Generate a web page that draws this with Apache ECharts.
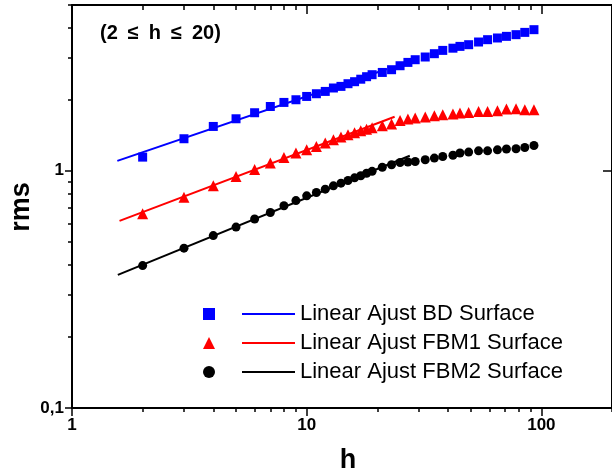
<!DOCTYPE html>
<html>
<head>
<meta charset="utf-8">
<script src="https://cdn.jsdelivr.net/npm/echarts@6/dist/echarts.min.js"></script>
<style>
html,body{margin:0;padding:0;background:#fff;}
#chart{width:612px;height:475px;}
</style>
</head>
<body>
<div id="chart"></div>
<script>
// ---- data ----
const hValues = [2,3,4,5,6,7,8,9,10,11,12,13,14,15,16,17,18,19,
  21,23,25,27,29,32,35,38,42,45,49,54,59,65,71,78,85,93];
const bdValues = [1.142,1.365,1.538,1.657,1.757,1.867,1.942,1.993,2.058,2.113,2.161,2.234,2.269,2.329,2.375,2.433,2.493,2.542,
  2.598,2.668,2.773,2.864,2.940,3.018,3.117,3.218,3.288,3.346,3.401,3.491,3.571,3.630,3.688,3.749,3.833,3.935];
const fbm1Values = [0.659,0.774,0.864,0.946,1.013,1.078,1.138,1.188,1.226,1.266,1.309,1.351,1.387,1.419,1.447,1.475,1.497,1.518,
  1.548,1.574,1.630,1.652,1.669,1.685,1.706,1.723,1.736,1.752,1.762,1.779,1.779,1.791,1.821,1.826,1.809,1.809];
const fbm2Values = [0.3985,0.472,0.533,0.579,0.626,0.667,0.712,0.749,0.784,0.810,0.837,0.864,0.887,0.910,0.934,0.953,0.976,0.995,
  1.035,1.060,1.084,1.089,1.094,1.113,1.131,1.149,1.163,1.188,1.199,1.214,1.214,1.226,1.235,1.238,1.254,1.279];
// linear-fit lines (start / end points)
const fitBD = [[1.56, 1.101], [22, 2.687]];
const fitFBM1 = [[1.594, 0.615], [23.7, 1.69]];
const fitFBM2 = [[1.568, 0.364], [27.5, 1.157]];
// ticks
const xMajorTicks = [1, 10, 100];
const xMinorTicks = [2,3,4,5,6,7,8,9,20,30,40,50,60,70,80,90,200];
const yMajorTicks = [0.1, 1];
const yMinorTicks = [0.2,0.3,0.4,0.5,0.6,0.7,0.8,0.9,2,3,4,5];
const yTickText = {0.1: '0,1', 1: '1'};
const seriesNames = ['BD Surface', 'FBM1 Surface', 'FBM2 Surface'];
const fitNames = ['Linear Ajust BD Surface', 'Linear Ajust FBM1 Surface', 'Linear Ajust FBM2 Surface'];

const toPairs = (vals) => hValues.map((h, i) => [h, vals[i]]);
const FONT = '"Liberation Sans", Arial, sans-serif';

const chart = echarts.init(document.getElementById('chart'), null, {renderer: 'canvas'});

function xAxisDef(position, custom, len, inside, showLine, labels) {
  return {
    type: 'log', logBase: 10, min: 1, max: 200, position: position,
    axisLine: {show: showLine, lineStyle: {color: '#000', width: 2}},
    axisTick: {show: true, inside: inside, length: len, customValues: custom, lineStyle: {color: '#000', width: 1.5}},
    axisLabel: labels ? {show: true, customValues: xMajorTicks, margin: 9, color: '#000', fontSize: 17, fontWeight: 'bold', fontFamily: FONT,
      formatter: (v) => String(Math.round(v))} : {show: false},
    splitLine: {show: false}, minorTick: {show: false}
  };
}
function yAxisDef(position, custom, len, inside, showLine, labels) {
  return {
    type: 'log', logBase: 10, min: 0.1, max: 5, position: position,
    axisLine: {show: showLine, lineStyle: {color: '#000', width: 2}},
    axisTick: {show: true, inside: inside, length: len, customValues: custom, lineStyle: {color: '#000', width: 1.5}},
    axisLabel: labels ? {show: true, customValues: yMajorTicks, margin: 8, color: '#000', fontSize: 17, fontWeight: 'bold', fontFamily: FONT,
      formatter: (v) => (Math.abs(v - 0.1) < 1e-6 ? yTickText[0.1] : (Math.abs(v - 1) < 1e-6 ? yTickText[1] : ''))} : {show: false},
    splitLine: {show: false}, minorTick: {show: false}
  };
}

const colors = ['#0000ff', '#ff0000', '#000000'];
const symbols = ['rect', 'triangle', 'circle'];
const symSizes = [9, 11, 9];
const pointData = [bdValues, fbm1Values, fbm2Values];
const fitData = [fitBD, fitFBM1, fitFBM2];

const series = [];
for (let i = 0; i < 3; i++) {
  series.push({
    name: seriesNames[i], type: 'scatter', xAxisIndex: 0, yAxisIndex: 0,
    symbol: symbols[i], symbolSize: symSizes[i],
    itemStyle: {color: colors[i], opacity: 1}, data: toPairs(pointData[i]), z: 2
  });
}
for (let i = 0; i < 3; i++) {
  series.push({
    name: fitNames[i], type: 'line', xAxisIndex: 0, yAxisIndex: 0,
    symbol: 'none', showSymbol: false,
    lineStyle: {color: colors[i], width: 2}, itemStyle: {color: colors[i]},
    data: fitData[i], z: 3, animation: false
  });
}

chart.setOption({
  animation: false,
  grid: {left: 72, top: 5, width: 545, height: 403, containLabel: false},
  xAxis: [
    xAxisDef('bottom', xMajorTicks, 8, false, true, true),
    xAxisDef('bottom', xMinorTicks, 4, false, false, false),
    xAxisDef('top', xMajorTicks, 9, true, true, false),
    xAxisDef('top', xMinorTicks, 5, true, false, false)
  ],
  yAxis: [
    yAxisDef('left', yMajorTicks, 7, false, true, true),
    yAxisDef('left', yMinorTicks, 4, false, false, false),
    yAxisDef('right', yMajorTicks, 9, true, true, false)
  ],
  legend: [
    {
      data: seriesNames, orient: 'vertical', left: 203, top: 299.5, padding: 0,
      itemWidth: 12, itemHeight: 12, itemGap: 0,
      itemStyle: {opacity: 1},
      formatter: () => ' ', textStyle: {fontSize: 22, lineHeight: 29, fontFamily: FONT},
      selectedMode: false
    },
    {
      data: fitNames, orient: 'vertical', left: 242, top: 299.5, padding: 0,
      icon: 'rect', itemWidth: 53, itemHeight: 2, itemGap: 0,
      textStyle: {fontSize: 22, lineHeight: 29, color: '#000', fontFamily: FONT},
      selectedMode: false
    }
  ],
  graphic: [
    {type: 'text', left: 100, top: 23, style: {text: '(2\u2002\u2264\u2002h\u2002\u2264\u200220)', font: 'bold 20px ' + FONT, fill: '#000'}},
    {type: 'text', x: 348, y: 461, style: {text: 'h', font: 'bold 27px ' + FONT, fill: '#000', textAlign: 'center', textVerticalAlign: 'middle'}},
    {type: 'text', x: 22, y: 207, rotation: Math.PI / 2, style: {text: 'rms', font: 'bold 27px ' + FONT, fill: '#000', textAlign: 'center', textVerticalAlign: 'middle'}}
  ],
  series: series
});
</script>
</body>
</html>
